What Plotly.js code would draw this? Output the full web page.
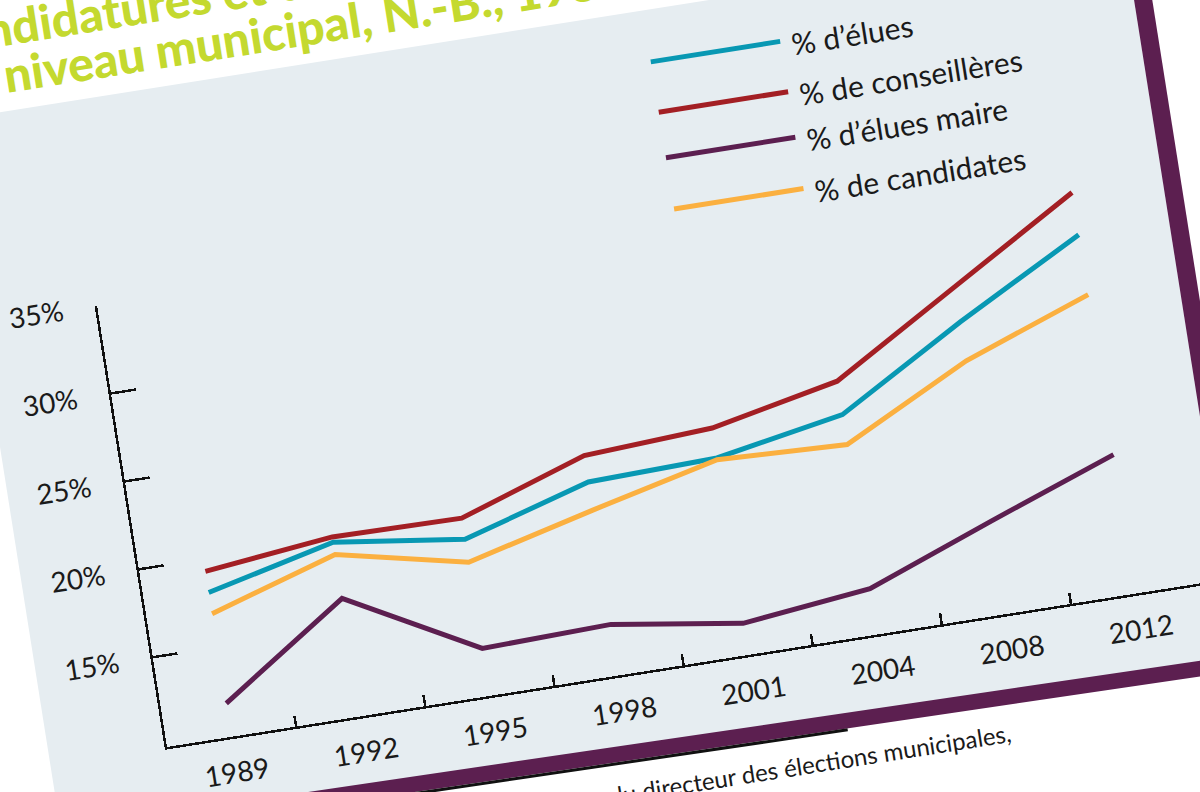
<!DOCTYPE html>
<html>
<head>
<meta charset="utf-8">
<script src="https://cdn.plot.ly/plotly-3.0.1.min.js"></script>
<style>
html,body{margin:0;padding:0;background:#ffffff;width:1200px;height:792px;overflow:hidden;position:relative;}
#chart{position:absolute;}
</style>
</head>
<body>
<div id="chart"></div>
<script>
// ---- data ----
const years = ['1989','1992','1995','1998','2001','2004','2008','2012'];
const pctElues        = [18.1, 19.8, 18.8, 20.9, 21.1, 22.4, 26.5, 30.3];
const pctConseilleres = [19.3, 20.1, 20.0, 22.4, 22.8, 24.3, 28.5, 32.7];
const pctMaires       = [11.8, 16.6, 12.6, 12.8, 11.7, 12.5, 15.2, 17.8];
const pctCandidates   = [16.9, 19.1, 17.5, 19.3, 21.0, 20.7, 24.3, 26.9];
const seriesNames  = ['% d’élues', '% de conseillères', '% d’élues maire', '% de candidates'];
const yTickVals    = [15, 20, 25, 30, 35];
const yTickText    = ['15%', '20%', '25%', '30%', '35%'];
const titleLine1   = 'Candidatures et élues au';
const titleLine2   = 'niveau municipal, N.-B., 1989-2012';
const sourceText   = 'Source : Rapports du directeur des élections municipales,';

// ---- geometry (unrotated frame) ----
const W = 1450, H = 1080, X0 = 250, Y0 = 820, PW = 1046, PH = 447;
const ANGLE = -9;
const colors = ['#0898b3', '#a31f24', '#5c1f50', '#fbb040'];
const purple = '#5c1f50';
const cardBg = '#e6edf1';
const FONT = 'Lato, "Open Sans", sans-serif';

function px(a){ return a / PW; }
function py(b){ return b / PH; }
function bandTop(a){ return -72 - 0.011 * (a - 630); }

const chart = document.getElementById('chart');
chart.style.width = W + 'px';
chart.style.height = H + 'px';
chart.style.left = (167 - X0) + 'px';
chart.style.top = (747 - Y0) + 'px';
chart.style.transformOrigin = X0 + 'px ' + Y0 + 'px';
chart.style.transform = 'rotate(' + ANGLE + 'deg)';

const values = [pctElues, pctConseilleres, pctMaires, pctCandidates];
const traces = values.map((v, i) => ({
  type: 'scatter', mode: 'lines', x: years, y: v, name: seriesNames[i],
  line: {color: colors[i], width: 5}, hoverinfo: 'skip'
}));

const shapes = [];
// card background
const aL = -118, aR = 1072, aR2 = 1090, bT = 653;
shapes.push({type:'path', xref:'paper', yref:'paper', layer:'below', line:{width:0}, fillcolor: cardBg,
  path: `M${px(aL)},${py(bT)} L${px(aR)},${py(bT)} L${px(aR)},${py(bandTop(aR)-4)} L${px(aL)},${py(bandTop(aL)-4)} Z`});
// bottom purple band
shapes.push({type:'path', xref:'paper', yref:'paper', layer:'below', line:{width:0}, fillcolor: purple,
  path: `M${px(aL)},${py(bandTop(aL))} L${px(aR2)},${py(bandTop(aR2))} L${px(aR2)},${py(bandTop(aR2)-15.5)} L${px(aL)},${py(bandTop(aL)-15.5)} Z`});
// right purple band
shapes.push({type:'rect', xref:'paper', yref:'paper', layer:'below', line:{width:0}, fillcolor: purple,
  x0: px(aR), x1: px(aR2), y0: py(bandTop(aR2)-15.5), y1: py(900)});
// black rule under the band
shapes.push({type:'line', xref:'paper', yref:'paper', layer:'below', line:{color:'#111', width:3},
  x0: px(-200), y0: py(bandTop(-200)-17), x1: px(675), y1: py(bandTop(675)-17)});

// custom legend
const legRows = [601, 550, 504, 452];
const annotations = [];
legRows.forEach((b, i) => {
  shapes.push({type:'line', xref:'paper', yref:'paper', line:{color: colors[i], width: 5},
    x0: px(585), x1: px(716), y0: py(b), y1: py(b)});
  annotations.push({xref:'paper', yref:'paper', x: px(725), y: py(b - 4), xanchor:'left', yanchor:'middle',
    text: seriesNames[i], showarrow:false, font:{family: FONT, size: 30, color:'#1a1a1a'}});
});

// title lines
annotations.push({xref:'paper', yref:'paper', x: px(-126), y: py(737), xanchor:'left', yanchor:'middle',
  text: titleLine1, showarrow:false, font:{family: FONT, size: 48, weight: 900, color:'#c4d92f'}});
annotations.push({xref:'paper', yref:'paper', x: px(-58), y: py(690), xanchor:'left', yanchor:'middle',
  text: titleLine2, showarrow:false, font:{family: FONT, size: 48, weight: 900, color:'#c4d92f'}});
// source
annotations.push({xref:'paper', yref:'paper', x: px(838), y: py(-117), xanchor:'right', yanchor:'middle',
  text: sourceText, showarrow:false, font:{family: FONT, size: 24, color:'#1a1a1a'}});

const layout = {
  width: W, height: H,
  margin: {l: X0, r: W - X0 - PW, t: Y0 - PH, b: H - Y0, pad: 0},
  paper_bgcolor: 'rgba(0,0,0,0)', plot_bgcolor: 'rgba(0,0,0,0)',
  showlegend: false,
  font: {family: FONT, color: '#1a1a1a'},
  xaxis: {type:'category', range:[-0.5, 7.5], showline:true, linecolor:'#111', linewidth:2.5,
    ticks:'inside', ticklen:11, tickwidth:2.5, tickcolor:'#111', tickson:'boundaries',
    showgrid:false, zeroline:false, ticklabelstandoff: 10,
    tickfont:{family: FONT, size: 28, color:'#1a1a1a'}},
  yaxis: {range:[9.9, 35], tickvals: yTickVals, ticktext: yTickText, showline:true, linecolor:'#111', linewidth:2.5,
    ticks:'inside', ticklen:25, tickwidth:2.5, tickcolor:'#111', showgrid:false, zeroline:false,
    ticklabelstandoff: 26, tickfont:{family: FONT, size: 28, color:'#1a1a1a'}},
  shapes: shapes,
  annotations: annotations
};

Plotly.newPlot(chart, traces, layout, {displayModeBar:false, staticPlot:true});
</script>
</body>
</html>
